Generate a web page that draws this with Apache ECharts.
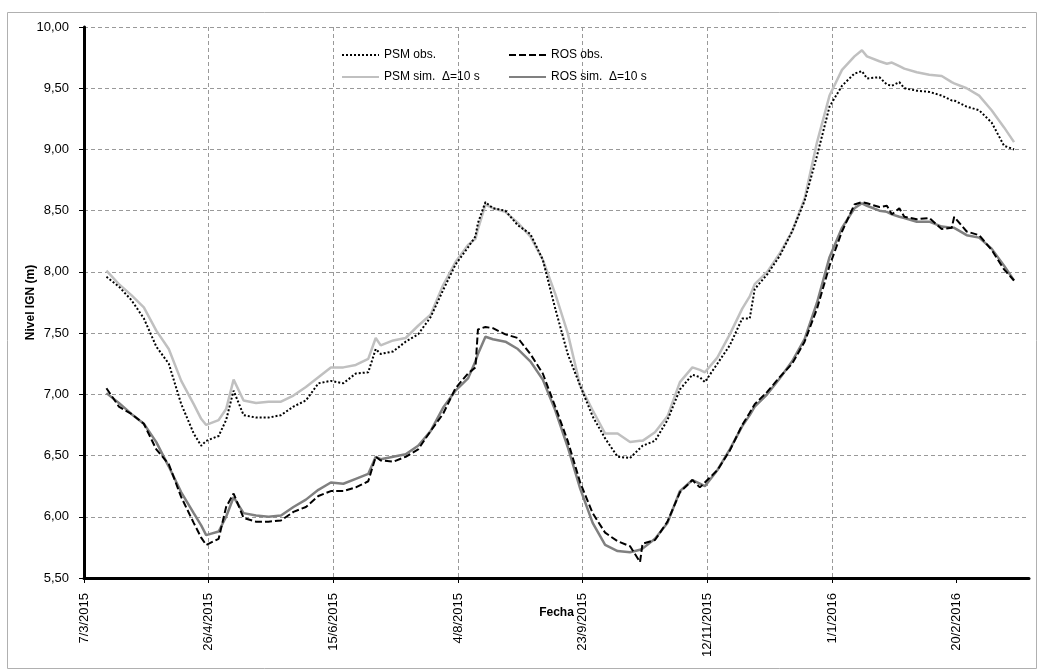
<!DOCTYPE html>
<html><head><meta charset="utf-8">
<script src="https://cdn.jsdelivr.net/npm/echarts@6/dist/echarts.min.js"></script>
<style>html,body{margin:0;padding:0;background:#fff}#c{width:1043px;height:669px}</style>
</head><body><div id="c"></div>
<script>
// Dates of the readings (YYYY-MM-DD)
const dates = [
'2015-03-16','2015-03-21','2015-03-26','2015-03-31','2015-04-05','2015-04-10','2015-04-15','2015-04-20','2015-04-23','2015-04-25',
'2015-04-30','2015-05-03','2015-05-06','2015-05-10','2015-05-15','2015-05-20','2015-05-25','2015-05-30','2015-06-04','2015-06-09',
'2015-06-14','2015-06-19','2015-06-24','2015-06-29','2015-07-02','2015-07-04','2015-07-09','2015-07-14','2015-07-19','2015-07-24',
'2015-07-29','2015-08-03','2015-08-08','2015-08-11','2015-08-12','2015-08-15','2015-08-18','2015-08-23','2015-08-28','2015-09-02',
'2015-09-07','2015-09-12','2015-09-17','2015-09-22','2015-09-27','2015-10-02','2015-10-07','2015-10-12','2015-10-16','2015-10-17',
'2015-10-22','2015-10-27','2015-11-01','2015-11-06','2015-11-09','2015-11-11','2015-11-16','2015-11-21','2015-11-26','2015-11-29',
'2015-12-01','2015-12-06','2015-12-11','2015-12-16','2015-12-21','2015-12-26','2015-12-31','2016-01-05','2016-01-10','2016-01-13',
'2016-01-15','2016-01-20','2016-01-23','2016-01-25','2016-01-28','2016-01-30','2016-02-04','2016-02-09','2016-02-14','2016-02-18',
'2016-02-19','2016-02-24','2016-02-29','2016-03-05','2016-03-10','2016-03-14'
];
const psmObs = [
7.96,7.88,7.77,7.62,7.39,7.25,6.92,6.68,6.58,6.62,
6.66,6.79,7.03,6.83,6.81,6.81,6.83,6.90,6.95,7.09,
7.11,7.09,7.17,7.18,7.37,7.33,7.35,7.43,7.49,7.63,
7.85,8.06,8.20,8.29,8.40,8.57,8.52,8.50,8.38,8.31,
8.10,7.70,7.33,7.07,6.82,6.64,6.49,6.48,6.56,6.58,
6.62,6.79,7.04,7.16,7.14,7.10,7.25,7.40,7.62,7.62,
7.86,7.98,8.13,8.33,8.58,8.95,9.35,9.52,9.62,9.64,
9.58,9.59,9.53,9.52,9.55,9.50,9.48,9.47,9.44,9.40,
9.40,9.35,9.32,9.22,9.03,9.00
];
const rosObs = [
7.05,6.90,6.84,6.76,6.55,6.43,6.16,5.95,5.83,5.77,
5.82,6.08,6.19,5.99,5.96,5.96,5.97,6.04,6.08,6.17,
6.21,6.21,6.24,6.29,6.49,6.46,6.45,6.49,6.55,6.70,
6.84,7.05,7.17,7.22,7.53,7.55,7.54,7.49,7.46,7.33,
7.17,6.90,6.62,6.28,6.03,5.87,5.80,5.76,5.63,5.78,
5.81,5.96,6.20,6.30,6.24,6.28,6.38,6.54,6.75,6.85,
6.92,7.02,7.14,7.25,7.43,7.70,8.05,8.33,8.55,8.57,
8.56,8.53,8.54,8.47,8.52,8.45,8.43,8.44,8.35,8.36,
8.45,8.33,8.30,8.18,8.02,7.93
];
const psmSim = [
8.01,7.90,7.81,7.71,7.52,7.37,7.11,6.92,6.80,6.75,
6.79,6.88,7.12,6.95,6.93,6.94,6.94,6.99,7.06,7.14,
7.22,7.22,7.24,7.29,7.46,7.40,7.44,7.46,7.56,7.65,
7.89,8.08,8.22,8.27,8.35,8.55,8.52,8.49,8.40,8.29,
8.10,7.82,7.50,7.07,6.87,6.68,6.68,6.61,6.62,6.62,
6.69,6.82,7.10,7.22,7.20,7.18,7.30,7.49,7.70,7.80,
7.90,8.00,8.15,8.33,8.60,9.06,9.44,9.65,9.76,9.81,
9.76,9.72,9.70,9.71,9.68,9.66,9.63,9.61,9.60,9.55,
9.54,9.50,9.44,9.32,9.18,9.06
];
const rosSim = [
7.01,6.93,6.84,6.76,6.61,6.41,6.20,6.03,5.93,5.85,
5.88,6.00,6.16,6.03,6.01,6.00,6.01,6.08,6.14,6.22,
6.28,6.27,6.31,6.35,6.49,6.47,6.49,6.51,6.58,6.70,
6.89,7.03,7.13,7.27,7.33,7.47,7.45,7.43,7.37,7.27,
7.12,6.87,6.57,6.23,5.95,5.77,5.72,5.71,5.73,5.74,
5.82,5.95,6.21,6.30,6.27,6.25,6.38,6.55,6.74,6.83,
6.90,7.00,7.13,7.27,7.45,7.75,8.12,8.36,8.52,8.56,
8.54,8.50,8.49,8.47,8.45,8.44,8.41,8.41,8.37,8.36,
8.36,8.30,8.28,8.19,8.05,7.93
];
// X axis tick labels (every 50 days from 7/3/2015)
const xTickLabels = ['7/3/2015','26/4/2015','15/6/2015','4/8/2015','23/9/2015','12/11/2015','1/1/2016','20/2/2016'];
const seriesNames = ['PSM obs.','ROS obs.','PSM sim.  \u0394=10 s','ROS sim.  \u0394=10 s'];

const DAY = 86400000;
const origin = Date.UTC(2015, 2, 7);
function dayOf(s){ const p = s.split('-').map(Number); return Math.round((Date.UTC(p[0], p[1]-1, p[2]) - origin) / DAY); }
const xDays = dates.map(dayOf);
const tickDays = xTickLabels.map(s => { const p = s.split('/').map(Number); return Math.round((Date.UTC(p[2], p[1]-1, p[0]) - origin) / DAY); });
function pairs(vals){ return vals.map((v,i)=>[xDays[i], v]); }

const FONT = 'Liberation Sans';
const chart = echarts.init(document.getElementById('c'), null, {renderer:'canvas'});
const lineBase = {type:'line', showSymbol:false, symbol:'none', symbolSize:0, smooth:false, animation:false};
const legendBase = {itemWidth:37, itemHeight:12, itemGap:6, itemStyle:{opacity:0}, textStyle:{fontSize:12, color:'#000', fontFamily:FONT}};
chart.setOption({
  animation:false,
  backgroundColor:'#fff',
  textStyle:{fontFamily:FONT},
  graphic:[{type:'rect', shape:{x:7.5, y:12.5, width:1029, height:656}, style:{fill:'none', stroke:'#b0b0b0', lineWidth:1}, silent:true, z:-10}],
  grid:{left:84, top:27, right:14, bottom:91, containLabel:false, outerBoundsMode:'none'},
  legend:[
    Object.assign({data:[seriesNames[0]], left:336, top:44}, legendBase),
    Object.assign({data:[seriesNames[1]], left:503, top:44}, legendBase),
    Object.assign({data:[seriesNames[2]], left:336, top:66}, legendBase),
    Object.assign({data:[seriesNames[3]], left:503, top:66}, legendBase)
  ],
  xAxis:{
    type:'value', min:0, max:379, interval:50,
    name:'Fecha', nameLocation:'middle', nameGap:29, nameMoveOverlap:false,
    nameTextStyle:{fontSize:12, fontWeight:'bold', color:'#000', fontFamily:FONT},
    axisLine:{show:true, onZero:false, lineStyle:{color:'#000', width:3}},
    axisTick:{show:true, length:5, lineStyle:{color:'#000', width:1}, customValues:tickDays},
    axisLabel:{rotate:90, fontSize:13, color:'#000', margin:15, customValues:tickDays,
      formatter:function(v){ const i = tickDays.indexOf(Math.round(v)); return i>=0 ? xTickLabels[i] : ''; }},
    splitLine:{show:true, showMinLine:false, showMaxLine:false, lineStyle:{color:'#999', type:[4,3], width:1}}
  },
  yAxis:{
    type:'value', min:5.5, max:10, interval:0.5,
    name:'Nivel IGN (m)', nameLocation:'middle', nameGap:47, nameRotate:90, nameMoveOverlap:false,
    nameTextStyle:{fontSize:12, fontWeight:'bold', color:'#000', fontFamily:FONT},
    axisLine:{show:true, lineStyle:{color:'#000', width:3}},
    axisTick:{show:true, length:5, lineStyle:{color:'#000', width:1}},
    axisLabel:{fontSize:13, color:'#000', margin:15, formatter:function(v){ return v.toFixed(2).replace('.', ','); }},
    splitLine:{show:true, lineStyle:{color:'#999', type:[4,3], width:1}}
  },
  series:[
    Object.assign({}, lineBase, {name:seriesNames[0], data:pairs(psmObs), lineStyle:{color:'#000', width:2, type:[2,2]}, itemStyle:{color:'#000'}, z:3}),
    Object.assign({}, lineBase, {name:seriesNames[1], data:pairs(rosObs), lineStyle:{color:'#000', width:2, type:[7,3]}, itemStyle:{color:'#000'}, z:3}),
    Object.assign({}, lineBase, {name:seriesNames[2], data:pairs(psmSim), lineStyle:{color:'#c0c0c0', width:2.5}, itemStyle:{color:'#c0c0c0'}, z:2}),
    Object.assign({}, lineBase, {name:seriesNames[3], data:pairs(rosSim), lineStyle:{color:'#808080', width:2.5}, itemStyle:{color:'#808080'}, z:2})
  ]
});
</script></body></html>
